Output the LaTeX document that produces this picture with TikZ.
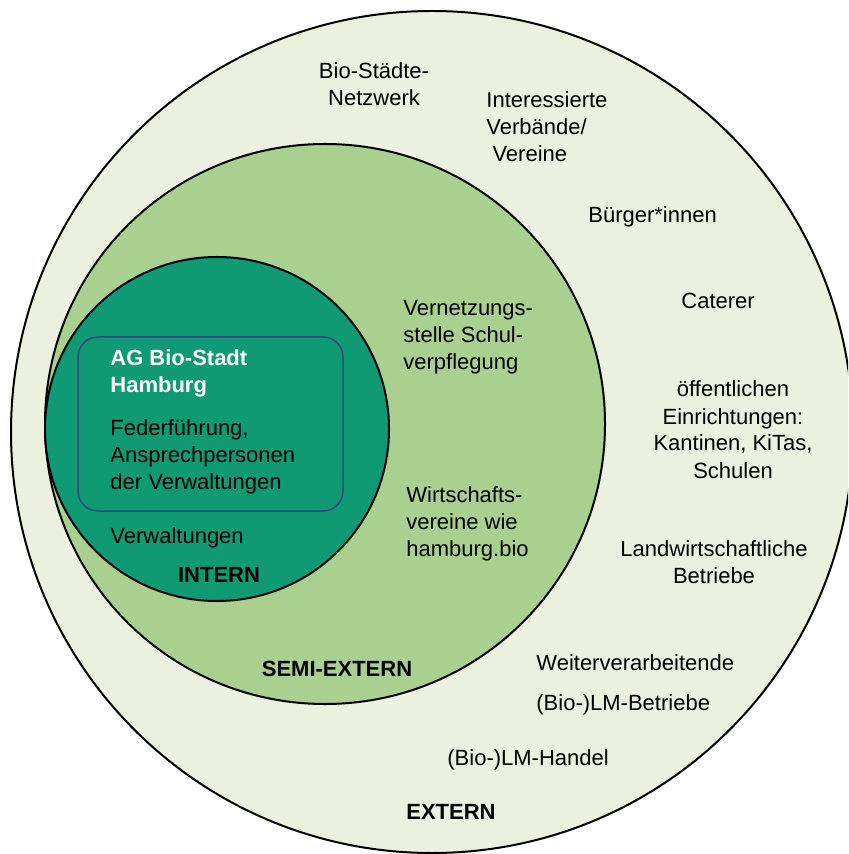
\documentclass[tikz,border=0pt]{standalone}
\usepackage{fontspec}
\setmainfont{Liberation Sans}
\definecolor{outerc}{HTML}{EBF1DE}
\definecolor{midc}{HTML}{A9D08E}
\definecolor{innc}{HTML}{0F9A74}
\definecolor{rectc}{HTML}{2E4C7E}
\begin{document}
\begin{tikzpicture}[x=0.5pt,y=-0.5pt,
  ring/.style={circle, draw=black, line width=1pt, inner sep=0pt},
  lbl/.style={inner sep=0pt, font=\fontsize{11pt}{13.5pt}\selectfont, anchor=base west, align=left},
  clbl/.style={inner sep=0pt, font=\fontsize{11pt}{13.5pt}\selectfont, anchor=base, align=center},
  blbl/.style={inner sep=0pt, font=\fontsize{11pt}{13.5pt}\selectfont\bfseries, anchor=base, align=center}]
\useasboundingbox (0,0) rectangle (848,854);
\clip (0,0) rectangle (848,854);
\fill[white] (0,0) rectangle (848,854);
% circles
\node[ring, fill=outerc, minimum size=421pt] (outer) at (432,432) {};
\node[ring, fill=midc, minimum size=280pt] (semi) at (325,424) {};
\node[ring, fill=innc, minimum size=172pt] (intern) at (217,429) {};
\node[draw=rectc, line width=0.75pt, rounded corners=10pt, minimum width=132.5pt, minimum height=87pt, inner sep=0pt] (ag) at (210.5,424) {};
% outer texts (anchor = baseline of last line)
\node[clbl] (bsn) at (374,106) {Bio-Städte-\\Netzwerk};
\node[lbl] (verb) at (486,162) {Interessierte\\Verbände/\\\ Vereine};
\node[lbl] (buerger) at (588,223) {Bürger*innen};
\node[lbl] (cat) at (681,309) {Caterer};
\node[clbl] (oeff) at (733,478) {öffentlichen\\Einrichtungen:\\Kantinen, KiTas,\\Schulen};
\node[clbl] (landw) at (714,583) {Landwirtschaftliche\\Betriebe};
\node[lbl] (weiter) at (536,670) {Weiterverarbeitende};
\node[lbl] (lmb) at (536,710) {(Bio-)LM-Betriebe};
\node[lbl] (lmh) at (447,765) {(Bio-)LM-Handel};
\node[blbl] (ext) at (451,819) {EXTERN};
% semi texts
\node[lbl] (vern) at (403,370) {Vernetzungs-\\stelle Schul-\\verpflegung};
\node[lbl] (wirt) at (406,556) {Wirtschafts-\\vereine wie\\hamburg.bio};
\node[blbl] (semiext) at (337,676) {SEMI-EXTERN};
% intern texts
\node[lbl, text=white, font=\fontsize{11pt}{13.5pt}\selectfont\bfseries] (agt) at (110,393) {AG Bio-Stadt\\Hamburg};
\node[lbl] (fed) at (110,489) {Federführung,\\Ansprechpersonen\\der Verwaltungen};
\node[lbl] (verw) at (110,543) {Verwaltungen};
\node[blbl] (int) at (219,582) {INTERN};
\end{tikzpicture}
\end{document}
